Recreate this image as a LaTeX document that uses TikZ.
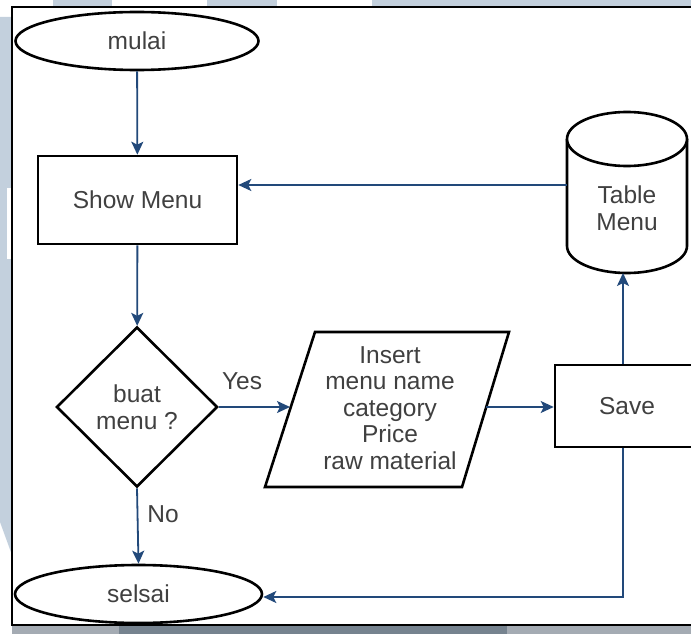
\documentclass[tikz,border=0pt]{standalone}
\usepackage{fontspec}
\setmainfont{Liberation Sans}
\usetikzlibrary{shapes.geometric,arrows.meta}
\definecolor{bgb}{HTML}{C3D0DD}
\definecolor{gra}{HTML}{A4ABB3}
\definecolor{grb}{HTML}{76838F}
\definecolor{lnk}{HTML}{22497A}
\definecolor{txt}{HTML}{404040}
\begin{document}
\begin{tikzpicture}[x=1pt,y=-1pt,
  shp/.style={draw=black, line width=2.6pt, fill=white, text=txt,
    font=\fontsize{24.5}{26.5}\selectfont, align=center},
  lbl/.style={text=txt, font=\fontsize{24.5}{26.5}\selectfont, align=center, inner sep=0pt},
  conn/.style={draw=lnk, line width=1.8pt},
  arr/.style={conn, -{Stealth[length=13pt,width=12pt,inset=3pt]}}]
\useasboundingbox (0,0) rectangle (691,634);
% background decoration
\fill[bgb] (53,0) rectangle (112,7);
\fill[bgb] (207,0) rectangle (277,7);
\fill[bgb] (372,0) rectangle (691,7);
\fill[bgb] (0,17) -- (12,17) -- (12,555) -- (0,522) -- cycle;
\fill[white] (7,188) rectangle (12,259);
\fill[gra] (12,626) rectangle (691,634);
\fill[grb] (119,626) rectangle (507,634);
% frame
\draw[line width=1.4pt, fill=white] (12,7) rectangle (710,625);
% nodes
\node[shp, ellipse, minimum width=243pt, minimum height=58pt, inner sep=0pt] (mulai) at (137,41) {mulai};
\node[shp, rectangle, minimum width=199pt, minimum height=88pt] (sm) at (137.5,200) {Show Menu};
\node[shp, diamond, minimum width=161pt, minimum height=160pt, inner sep=0pt] (dia) at (137,407) {buat\\menu ?};
\draw[shp] (315,332) -- (509,332) -- (462,487) -- (265,487) -- cycle;
\node[lbl] (ins) at (390,408) {Insert\\menu name\\category\\Price\\raw material};
\coordinate (insW) at (290,407);
\coordinate (insE) at (486,407);
\node[shp, rectangle, minimum width=144pt, minimum height=82pt] (save) at (627,406) {Save};
% cylinder
\draw[shp] (567,139) -- (567,246) arc[start angle=180, end angle=360, x radius=60, y radius=-27]
  -- (687,139);
\draw[shp] (627,139) ellipse[x radius=60, y radius=27];
\node[lbl] (cyl) at (627,208) {Table\\Menu};
\coordinate (cylW) at (567,185);
\coordinate (cylS) at (623,273);
\node[shp, ellipse, minimum width=247pt, minimum height=58pt, inner sep=0pt] (sel) at (138.5,594) {selsai};
% connectors
\draw[arr] (mulai) -- (sm);
\draw[arr] (cylW) -- (cylW -| sm.east);
\draw[arr] (sm) -- (dia);
\draw[arr] (dia.east) -- (insW);
\draw[arr] (insE) -- (insE -| save.west);
\draw[arr] (save.north -| cylS) -- (cylS);
\draw[arr] (save.south -| cylS) |- ([yshift=-3pt]sel.east);
\draw[arr] (dia.south) -- (sel.north);
% labels
\node[lbl] (yes) at (242,381) {Yes};
\node[lbl] (no) at (163,514) {No};
\end{tikzpicture}
\end{document}
